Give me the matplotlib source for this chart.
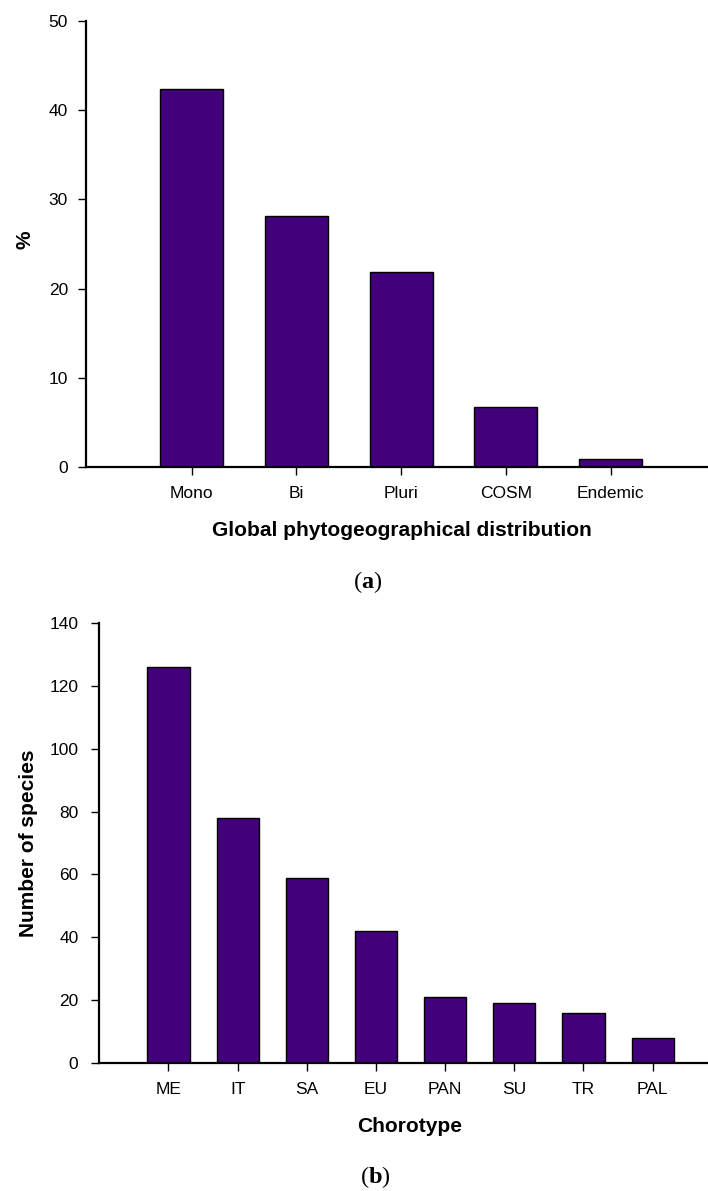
import matplotlib.pyplot as plt

plt.rcParams['font.family'] = ['Liberation Sans', 'DejaVu Sans']
plt.rcParams['mathtext.fontset'] = 'custom'
plt.rcParams['mathtext.rm'] = 'Liberation Serif'
plt.rcParams['mathtext.bf'] = 'Liberation Serif:bold'

# (a) share of species by global distribution type
dist_types = ['Mono', 'Bi', 'Pluri', 'COSM', 'Endemic']
dist_pct = [42.4, 28.1, 21.9, 6.7, 0.9]

# (b) species count per chorotype
chorotypes = ['ME', 'IT', 'SA', 'EU', 'PAN', 'SU', 'TR', 'PAL']
chorotype_counts = [126, 78, 59, 42, 21, 19, 16, 8]

bar_color = '#42007a'

fig = plt.figure(figsize=(7.08, 11.91), dpi=100)

def style_axes(ax):
    for side in ['top', 'right']:
        ax.spines[side].set_visible(False)
    for side in ['left', 'bottom']:
        ax.spines[side].set_linewidth(1.6)
    ax.tick_params(direction='out', length=6, width=1, labelsize=12.5, colors='black')
    ax.tick_params(axis='x', pad=8)
    ax.tick_params(axis='y', pad=7)

# top panel
ax1 = fig.add_axes([0.1215, 0.6079, 0.8785, 0.3745])
ax1.bar(range(len(dist_types)), dist_pct, width=0.6, color=bar_color,
        edgecolor='black', linewidth=1)
ax1.set_xlim(-1.01, 4.93)
ax1.set_ylim(0, 50)
ax1.set_yticks([0, 10, 20, 30, 40, 50])
ax1.set_xticks(range(len(dist_types)))
ax1.set_xticklabels(dist_types)
style_axes(ax1)
ax1.set_xlabel('Global phytogeographical distribution', fontsize=15, fontweight='bold',
               va='top')
ax1.xaxis.set_label_coords(0.5075, -0.122)
fig.text(25 / 708, 1 - 240 / 1191, '%', rotation=90, fontsize=15, fontweight='bold',
         ha='center', va='center')
fig.text(368 / 708, 1 - 582 / 1191, r'$(\mathbf{a})$', fontsize=17.5,
         ha='center', va='center')

# bottom panel
ax2 = fig.add_axes([0.1403, 0.1075, 0.8597, 0.3694])
ax2.bar(range(len(chorotypes)), chorotype_counts, width=0.61, color=bar_color,
        edgecolor='black', linewidth=1)
ax2.set_xlim(-1.0, 7.8)
ax2.set_ylim(0, 140)
ax2.set_yticks(range(0, 141, 20))
ax2.set_xticks(range(len(chorotypes)))
ax2.set_xticklabels(chorotypes)
style_axes(ax2)
ax2.tick_params(axis='y', pad=9)
ax2.set_xlabel('Chorotype', fontsize=15, fontweight='bold', va='top')
ax2.xaxis.set_label_coords(0.5104, -0.122)
fig.text(28 / 708, 1 - 843 / 1191, 'Number of species', rotation=90, fontsize=15,
         fontweight='bold', ha='center', va='center')
fig.text(375 / 708, 1 - 1177 / 1191, r'$(\mathbf{b})$', fontsize=17.5,
         ha='center', va='center')

fig.savefig('out.png', dpi=100)
